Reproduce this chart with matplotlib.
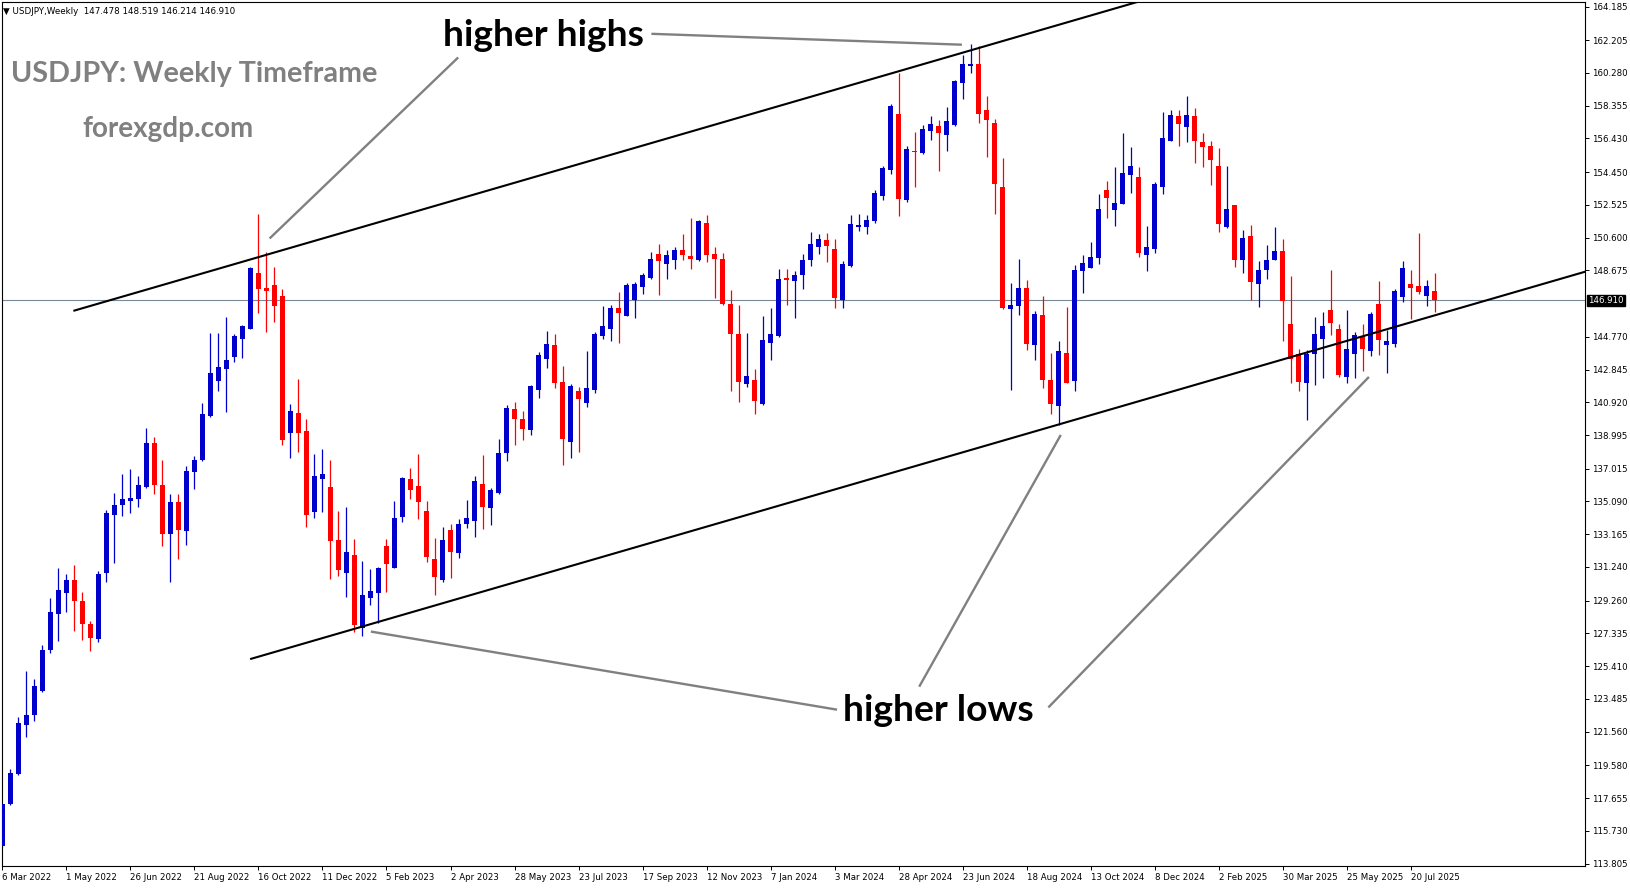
import matplotlib
matplotlib.use("Agg")
import matplotlib.pyplot as plt
import matplotlib.transforms as mtransforms
import numpy as np

# weekly USDJPY candles, 6 Mar 2022 .. 10 Aug 2025
opens = [114.85, 117.30, 119.07, 121.96, 122.56, 123.93, 126.34, 128.49, 129.72, 130.49,
         129.25, 127.91, 127.02, 130.88, 134.29, 134.89, 135.13, 135.21, 135.92, 138.54,
         136.05, 133.19, 135.08, 133.37, 136.83, 137.52, 140.12, 142.16, 142.90, 143.60,
         144.65, 145.23, 148.54, 147.62, 147.80, 147.15, 139.12, 140.31, 139.22, 134.48,
         136.42, 135.93, 132.81, 130.89, 131.93, 127.68, 129.42, 129.68, 132.46, 131.20,
         134.18, 136.43, 135.98, 134.50, 131.73, 130.46, 133.40, 132.07, 133.75, 133.95,
         136.14, 134.71, 135.59, 137.94, 140.55, 139.96, 139.28, 141.63, 143.49, 144.27,
         142.10, 138.59, 141.57, 140.88, 141.63, 144.82, 145.23, 146.47, 145.98, 146.92,
         147.70, 148.23, 149.62, 149.03, 149.27, 149.86, 149.50, 149.27, 151.46, 149.62,
         149.37, 146.68, 144.92, 141.98, 142.21, 140.80, 144.41, 144.80, 148.23, 148.05,
         148.39, 149.27, 150.05, 150.48, 149.95, 146.96, 148.92, 151.23, 151.23, 151.56,
         153.05, 154.56, 157.85, 152.80, 155.68, 155.58, 156.87, 157.15, 156.62, 157.21,
         159.69, 160.71, 160.79, 158.09, 157.36, 153.56, 146.39, 146.57, 147.66, 144.27,
         146.04, 142.22, 140.69, 143.84, 142.16, 148.64, 148.84, 149.43, 153.39, 152.21,
         152.60, 154.27, 154.17, 149.56, 149.92, 153.58, 156.28, 157.73, 157.11, 157.73,
         156.22, 155.97, 154.79, 151.23, 152.50, 149.31, 150.68, 147.90, 148.72, 149.31,
         149.80, 145.55, 143.78, 142.06, 143.78, 144.63, 146.33, 145.21, 142.41, 143.74,
         144.80, 143.92, 146.68, 144.27, 144.33, 147.11, 147.90, 147.74, 147.17, 147.478]
highs = [117.35, 119.39, 122.43, 125.11, 124.64, 126.68, 129.44, 131.19, 130.80, 131.35,
         129.75, 128.07, 130.98, 134.61, 135.60, 136.70, 136.99, 136.60, 139.41, 138.88,
         137.50, 135.52, 135.52, 137.18, 137.78, 140.85, 145.00, 145.00, 145.91, 144.92,
         145.44, 148.85, 151.99, 149.77, 148.85, 147.59, 140.80, 142.27, 139.92, 137.87,
         138.16, 137.51, 134.52, 134.77, 132.87, 131.58, 131.11, 131.24, 132.91, 135.10,
         136.53, 137.08, 137.90, 135.10, 132.97, 133.60, 133.75, 134.05, 135.16, 136.57,
         137.81, 135.89, 138.75, 140.75, 140.94, 140.41, 141.96, 143.88, 145.10, 144.92,
         143.04, 141.98, 141.82, 143.94, 145.04, 146.58, 146.62, 147.41, 147.94, 147.99,
         148.52, 149.76, 150.21, 149.86, 150.05, 150.80, 151.76, 151.62, 151.91, 150.05,
         149.70, 147.51, 146.62, 145.00, 142.86, 145.98, 146.47, 148.78, 148.74, 148.62,
         149.62, 150.93, 150.80, 150.88, 150.54, 149.21, 151.91, 152.01, 151.92, 153.39,
         154.82, 158.44, 160.30, 155.97, 156.81, 157.21, 157.74, 157.50, 158.28, 159.85,
         161.32, 161.97, 161.85, 158.91, 157.60, 155.29, 147.94, 149.37, 148.10, 146.27,
         147.17, 143.82, 144.51, 146.53, 148.98, 149.56, 150.35, 153.19, 153.91, 154.76,
         156.77, 155.93, 154.76, 151.27, 153.87, 157.99, 158.09, 158.09, 158.91, 158.19,
         156.77, 156.26, 155.89, 154.79, 152.50, 151.03, 151.33, 149.21, 150.15, 151.23,
         150.50, 148.33, 144.08, 144.02, 145.94, 146.23, 148.68, 145.51, 146.33, 145.06,
         145.51, 146.23, 148.05, 145.19, 147.56, 149.21, 148.68, 150.90, 148.09, 148.519]
lows = [114.75, 117.25, 119.02, 121.22, 122.17, 123.87, 126.16, 126.89, 128.60, 127.47,
        126.94, 126.29, 126.81, 130.35, 131.46, 134.24, 134.42, 134.76, 135.86, 135.52,
        132.45, 130.35, 131.72, 132.53, 135.81, 137.44, 140.06, 141.58, 140.33, 143.26,
        143.53, 145.23, 146.18, 145.05, 145.63, 138.41, 137.65, 138.00, 133.60, 134.12,
        134.48, 130.52, 130.70, 129.48, 127.42, 127.17, 128.99, 127.97, 129.77, 131.20,
        133.89, 135.22, 134.05, 131.54, 129.62, 130.36, 130.60, 131.77, 133.54, 133.01,
        133.46, 133.69, 135.55, 137.47, 138.43, 138.69, 139.02, 141.20, 142.94, 141.73,
        137.26, 137.65, 138.00, 140.65, 141.47, 144.63, 144.53, 144.41, 145.98, 145.88,
        147.31, 148.15, 147.21, 148.15, 148.74, 149.27, 148.74, 149.23, 149.17, 147.07,
        146.62, 141.57, 140.94, 141.82, 140.22, 140.75, 143.39, 144.76, 146.62, 145.88,
        147.56, 148.94, 149.62, 149.17, 146.47, 146.47, 148.88, 150.99, 150.80, 151.48,
        152.80, 154.33, 151.86, 152.70, 153.58, 155.50, 156.32, 154.50, 155.68, 157.15,
        158.73, 160.30, 157.34, 155.34, 151.96, 146.39, 141.67, 146.04, 144.02, 143.39,
        141.77, 140.26, 139.57, 142.06, 141.59, 147.35, 148.82, 149.04, 151.76, 151.27,
        152.56, 153.25, 149.47, 148.64, 149.70, 153.19, 156.28, 155.99, 156.22, 154.99,
        154.76, 153.68, 150.93, 151.17, 148.87, 148.53, 146.96, 146.53, 148.15, 149.27,
        144.53, 142.06, 141.59, 139.90, 141.92, 142.35, 144.86, 142.41, 142.06, 142.35,
        142.76, 143.65, 143.69, 142.65, 144.18, 146.82, 145.80, 147.31, 146.56, 146.214]
closes = [117.29, 119.12, 122.09, 122.53, 124.27, 126.37, 128.57, 129.88, 130.49, 129.25,
          127.86, 127.07, 130.80, 134.42, 134.89, 135.21, 135.29, 136.07, 138.54, 136.05,
          133.19, 135.08, 133.42, 136.86, 137.52, 140.25, 142.63, 143.00, 143.42, 144.84,
          145.39, 148.80, 147.59, 147.49, 146.57, 138.70, 140.39, 139.12, 134.30, 136.57,
          136.73, 132.77, 131.05, 132.09, 127.81, 129.58, 129.81, 131.15, 131.44, 134.14,
          136.47, 135.79, 135.06, 131.83, 130.66, 132.81, 132.13, 133.75, 134.12, 136.28,
          134.77, 135.75, 137.96, 140.61, 139.92, 139.36, 141.86, 143.69, 144.33, 142.06,
          138.77, 141.86, 141.10, 141.73, 144.96, 145.39, 146.47, 146.17, 147.80, 147.86,
          148.39, 149.37, 149.23, 149.56, 149.86, 149.56, 149.33, 151.56, 149.56, 149.37,
          146.72, 144.92, 142.12, 142.45, 141.00, 144.57, 144.92, 148.15, 148.09, 148.39,
          149.27, 150.21, 150.54, 150.11, 147.05, 149.07, 151.42, 151.33, 151.62, 153.25,
          154.70, 158.32, 152.86, 155.79, 155.62, 156.97, 157.26, 156.76, 157.44, 159.79,
          160.83, 160.79, 157.85, 157.54, 153.74, 146.47, 146.63, 147.61, 144.33, 146.13,
          142.22, 140.81, 143.92, 142.08, 148.68, 149.13, 149.47, 152.31, 152.93, 152.66,
          154.42, 154.80, 149.70, 150.02, 153.74, 156.48, 157.79, 157.30, 157.79, 156.28,
          155.93, 155.19, 151.42, 152.31, 149.31, 150.60, 147.99, 148.68, 149.31, 149.80,
          146.88, 143.49, 142.12, 143.74, 144.92, 145.39, 145.59, 142.51, 144.04, 144.86,
          144.04, 146.10, 144.57, 144.51, 147.47, 148.84, 147.64, 147.41, 147.74, 146.910]

date_labels = ["6 Mar 2022", "1 May 2022", "26 Jun 2022", "21 Aug 2022", "16 Oct 2022",
               "11 Dec 2022", "5 Feb 2023", "2 Apr 2023", "28 May 2023", "23 Jul 2023",
               "17 Sep 2023", "12 Nov 2023", "7 Jan 2024", "3 Mar 2024", "28 Apr 2024",
               "23 Jun 2024", "18 Aug 2024", "13 Oct 2024", "8 Dec 2024", "2 Feb 2025",
               "30 Mar 2025", "25 May 2025", "20 Jul 2025"]
price_ticks = [164.185, 162.205, 160.280, 158.355, 156.430, 154.450, 152.525, 150.600,
               148.675, 144.770, 142.845, 140.920, 138.995, 137.015, 135.090, 133.165,
               131.240, 129.260, 127.335, 125.410, 123.485, 121.560, 119.580, 117.655,
               115.730, 113.805]
last_price = 146.910

# trendlines (week index, price)
upper_channel = ([9.0, 150.0], [146.31, 165.57])
lower_channel = ([31.09, 200.0], [125.84, 148.90])
# gray pointer lines
pointers = [([33.4, 56.96], [150.55, 161.19]),
            ([81.1, 119.9], [162.58, 161.94]),
            ([46.05, 104.3], [127.44, 122.85]),
            ([132.25, 114.56], [139.0, 124.2]),
            ([170.75, 130.7], [142.41, 122.98])]

W, H = 1631, 888
fig = plt.figure(figsize=(W / 100, H / 100), dpi=100)
fig.patch.set_facecolor("white")
ax = fig.add_axes([2 / W, 1 - 866 / H, 1583 / W, 864 / H])

x = np.arange(len(opens))
o = np.array(opens); c = np.array(closes)
hi = np.array(highs); lo = np.array(lows)
up = c >= o
cols = np.where(up, "#0000CC", "#FF0000")

# wicks, then bodies
ax.vlines(x, lo, hi, colors=cols, linewidth=0.9, zorder=2)
body = np.maximum(np.abs(c - o), 0.06)
ax.bar(x, body, bottom=np.minimum(o, c), width=0.62, color=cols,
       linewidth=0, zorder=3)

# current price line
ax.axhline(last_price, color="#778899", linewidth=0.8, zorder=1)

# channel
ax.plot(*upper_channel, color="black", linewidth=1.5, zorder=4)
ax.plot(*lower_channel, color="black", linewidth=1.5, zorder=4)
for px, py in pointers:
    ax.plot(px, py, color="#808080", linewidth=1.7, zorder=4, solid_capstyle="butt")

ax.text(55.1, 161.85, "higher highs", family="Lato", weight="bold", fontsize=26.7,
        color="black", va="baseline", ha="left", zorder=5)
ax.text(105.0, 122.2, "higher lows", family="Lato", weight="bold", fontsize=26.8,
        color="black", va="baseline", ha="left", zorder=5)
ax.text(1.09, 159.75, "USDJPY: Weekly Timeframe", family="Lato", weight="bold",
        fontsize=20.7, color="#808080", va="baseline", ha="left", zorder=5)
ax.text(10.04, 156.52, "forexgdp.com", family="Lato", weight="bold",
        fontsize=20, color="#808080", va="baseline", ha="left", zorder=5)

ax.set_xlim(-0.04, 197.75)
ax.set_ylim(113.66, 164.45)

# axes look like the terminal
for s in ax.spines.values():
    s.set_color("black")
    s.set_linewidth(0.8)
ax.yaxis.tick_right()
ax.set_yticks(price_ticks)
ax.set_yticklabels([f"{p:.3f}" for p in price_ticks])
ax.set_xticks(np.arange(0, 8 * len(date_labels), 8))
ax.set_xticklabels(date_labels)
for lab in ax.get_xticklabels():
    lab.set_ha("left")
ax.tick_params(axis="both", direction="out", length=3, width=0.7, color="black",
               labelsize=6.2, labelcolor="black", pad=2)
for lab in ax.get_xticklabels() + ax.get_yticklabels():
    lab.set_family("DejaVu Sans")

# last price tag
trans = mtransforms.blended_transform_factory(ax.transAxes, ax.transData)
ax.text(1.0018, last_price, f"{last_price:.3f}", transform=trans, fontsize=6.2,
        family="DejaVu Sans", color="white", va="center", ha="left", zorder=6,
        bbox=dict(boxstyle="square,pad=0.15", facecolor="black", edgecolor="black"))

# header line
fig.text(3 / W, 1 - 11 / H, "\u25bc USDJPY,Weekly  147.478 148.519 146.214 146.910",
         family="DejaVu Sans", fontsize=6.3, color="black", va="center", ha="left")

fig.savefig("out.png", dpi=100)
